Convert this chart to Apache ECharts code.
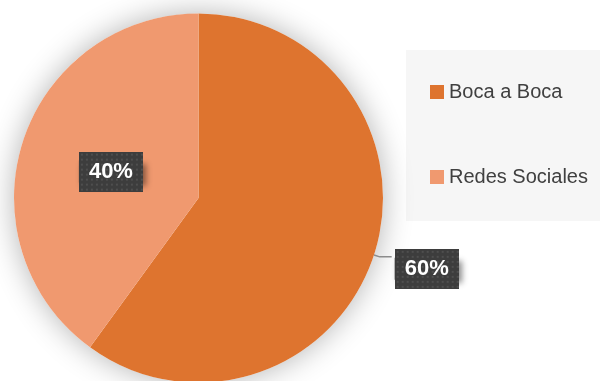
<!DOCTYPE html>
<html>
<head>
<meta charset="utf-8">
<script src="https://cdn.jsdelivr.net/npm/echarts@6/dist/echarts.min.js"></script>
<style>
  html, body { margin: 0; padding: 0; background: #ffffff; }
  #chart { width: 600px; height: 381px; }
</style>
</head>
<body>
<div id="chart"></div>
<script>
// Sources of contact, share of responses
const categories = ['Boca a Boca', 'Redes Sociales'];
const values = [60, 40];
const colors = ['#DE742F', '#F0996F'];

// Dark dotted tile used behind the percentage labels
function dottedTile(w, h) {
  const c = document.createElement('canvas');
  c.width = w; c.height = h;
  const g = c.getContext('2d');
  g.fillStyle = '#3d3d3d';
  g.fillRect(0, 0, w, h);
  g.fillStyle = '#4f4f4f';
  for (let y = 2; y < h; y += 5) {
    for (let x = 2; x < w; x += 5) {
      g.fillRect(x, y, 2, 2);
    }
  }
  return c;
}
const tile = dottedTile(64, 40);

const labelBase = {
  show: true,
  formatter: p => '{v|' + Math.round(p.percent) + '%}',
  padding: 0,
  backgroundColor: '#3d3d3d',
  shadowColor: 'rgba(0,0,0,0.45)',
  shadowBlur: 6,
  shadowOffsetX: 3,
  shadowOffsetY: 3,
  rich: {
    v: {
      color: '#ffffff',
      fontFamily: 'Liberation Sans, Arial, sans-serif',
      fontWeight: 'bold',
      fontSize: 22,
      width: 46,
      height: 22,
      lineHeight: 22,
      align: 'center',
      verticalAlign: 'middle',
      padding: [9, 9, 9, 9],
      backgroundColor: { image: tile }
    }
  }
};

const labelPositions = ['outside', 'inside'];
// small nudges of each label box away from its default anchor
const labelNudge = [[-2, 12], [3, 3]];

const chart = echarts.init(document.getElementById('chart'), null, { renderer: 'canvas' });
chart.setOption({
  backgroundColor: '#ffffff',
  animation: false,
  graphic: [{
    type: 'rect',
    left: 406, top: 50,
    shape: { width: 194, height: 171 },
    style: { fill: '#f6f6f6' },
    z: -1
  }],
  legend: {
    data: categories,
    orient: 'vertical',
    left: 430,
    top: 82,
    padding: 0,
    itemWidth: 14,
    itemHeight: 14,
    itemGap: 65,
    icon: 'rect',
    textStyle: {
      fontFamily: 'Liberation Sans, Arial, sans-serif',
      fontSize: 20,
      color: '#404040'
    }
  },
  series: [
    {
      // soft halo beneath the pie
      type: 'pie',
      center: [198.5, 198],
      radius: 184.5,
      silent: true,
      z: 1,
      label: { show: false },
      labelLine: { show: false },
      itemStyle: {
        color: '#ffffff',
        shadowColor: 'rgba(0,0,0,0.3)',
        shadowBlur: 30
      },
      data: [{ name: '_halo', value: 1 }]
    },
    {
      type: 'pie',
      center: [198.5, 198],
      radius: 184.5,
      startAngle: 90,
      clockwise: true,
      avoidLabelOverlap: false,
      z: 2,
      color: colors,
      itemStyle: { borderWidth: 0 },
      labelLine: {
        show: true,
        length: 6,
        length2: 12,
        lineStyle: { color: '#8c8c8c', width: 1.5 }
      },
      labelLayout: p => ({ dx: labelNudge[p.dataIndex][0], dy: labelNudge[p.dataIndex][1] }),
      data: categories.map((name, i) => ({
        name: name,
        value: values[i],
        label: Object.assign({}, labelBase, { position: labelPositions[i] }),
        labelLine: { show: labelPositions[i] === 'outside' }
      }))
    }
  ]
});
</script>
</body>
</html>
